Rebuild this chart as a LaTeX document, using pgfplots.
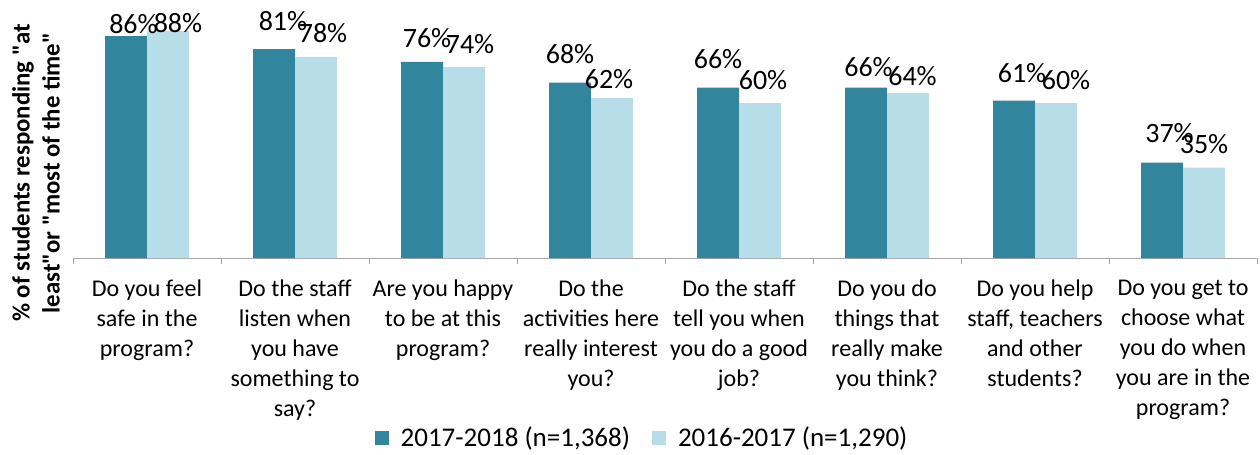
\documentclass[border=0pt]{standalone}
\usepackage{pgfplots}
\usepackage{pgfplotstable}
\pgfplotsset{compat=1.18}
\usepackage{fontspec}
\setmainfont{Carlito}
\definecolor{darkteal}{HTML}{31859C}
\definecolor{lightteal}{HTML}{B7DEE8}
\definecolor{axisgray}{HTML}{A6A6A6}

% x: question index, y: percent, dx/dy: value label offsets (pt)
\pgfplotstableread{
x y  dx   dy
0 86 3.75 1.2
1 81 4.5  9.5
2 76 2.5  7
3 68 0    9.5
4 66 0    9.5
5 66 1.25 5.5
6 61 4    9
7 37 3.75 10
}\yearA
\pgfplotstableread{
x y  dx   dy
0 88 5    -1
1 78 3.5  7
2 74 3    7
3 62 -1.5 5
4 60 1.5  7
5 64 2.25 3.5
6 60 5    7
7 35 0    7
}\yearB

\begin{document}
\begin{tikzpicture}
\begin{axis}[
  scale only axis, width=592pt, height=129pt,
  ymin=0, ymax=100, xmin=-0.5, xmax=7.5,
  ybar=0pt, bar width=21pt,
  axis y line=none, axis x line=bottom,
  x axis line style={-, draw=axisgray},
  xtick={0,...,7}, major tick length=0pt,
  minor xtick={-0.5,0.5,...,7.5}, minor tick length=3pt,
  tick align=outside, minor tick style={axisgray},
  xticklabels={
    {Do you feel\\safe in the\\program?},
    {Do the staff\\listen when\\you have\\something to\\say?},
    {Are you happy\\to be at this\\program?},
    {Do the\\activities here\\really interest\\you?},
    {Do the staff\\tell you when\\you do a good\\job?},
    {Do you do\\things that\\really make\\you think?},
    {Do you help\\staff, teachers\\and other\\students?},
    {Do you get to\\choose what\\you do when\\you are in the\\program?}},
  xticklabel style={align=center, font=\fontsize{12}{15}\selectfont, yshift=-7.5pt},
  /pgf/number format/assume math mode=true,
  visualization depends on={\thisrow{dx} \as \labdx},
  visualization depends on={\thisrow{dy} \as \labdy},
  nodes near coords={\pgfmathprintnumber{\pgfplotspointmeta}\%},
  nodes near coords style={font=\fontsize{14}{16}\selectfont, anchor=base,
    inner sep=0pt, xshift=\labdx pt, yshift=\labdy pt, text=black},
  legend columns=2,
  legend style={at={(0.481,0)}, yshift=-90pt, anchor=center, draw=none,
    font=\fontsize{13.5}{16}\selectfont,
    nodes={inner sep=1.5pt},
    /tikz/every odd column/.append style={column sep=4.5pt},
    /tikz/every even column/.append style={column sep=9.5pt}},
  legend image code/.code={\fill[#1] (0pt,-3.5pt) rectangle (7pt,3.5pt);},
]
\addplot[fill=darkteal, draw=none] table[x=x, y=y] {\yearA};
\addplot[fill=lightteal, draw=none] table[x=x, y=y] {\yearB};
\legend{{2017-2018 (n=1,368)}, {2016-2017 (n=1,290)}}
\coordinate (ll) at (rel axis cs:0,0);
\coordinate (ur) at (rel axis cs:1,1);
\end{axis}
\node[rotate=90, align=center, font=\bfseries\fontsize{12.4}{15}\selectfont]
  at ([xshift=-18.5pt,yshift=42.5pt]ll)
  {\% of students responding \textquotedbl at\\least\textquotedbl or \textquotedbl most of the time\textquotedbl};
\pgfresetboundingbox
\path[use as bounding box] ([xshift=-36.5pt,yshift=-98pt]ll) rectangle ([xshift=1.5pt]ur);
\end{tikzpicture}
\end{document}
